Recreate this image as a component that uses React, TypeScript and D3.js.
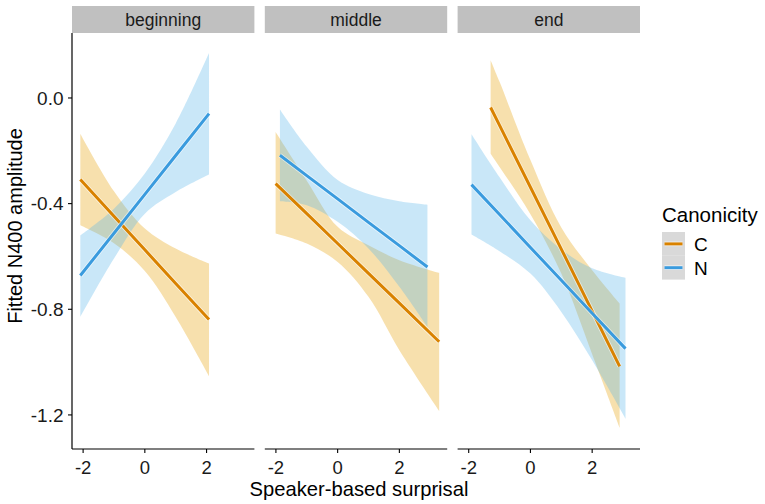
import React from "react";
import * as d3 from "d3";

// facets, groups and axis ticks
const facets = ["beginning", "middle", "end"];
const groups = ["C", "N"];
const yTicks = [0.0, -0.4, -0.8, -1.2];
const xTicks = [-2, 0, 2];

// beginning
const begX_C = [-2.09, -1, 0, 1, 2.08];
const begFit_C = [-0.309, -0.448, -0.575, -0.702, -0.839];
const begUp_C = [-0.135, -0.353, -0.494, -0.57, -0.627];
const begLo_C = [-0.482, -0.55, -0.655, -0.829, -1.053];
const begX_N = [-2.09, -1, 0, 1, 2.08];
const begFit_N = [-0.672, -0.512, -0.365, -0.218, -0.059];
const begUp_N = [-0.52, -0.419, -0.286, -0.097, 0.17];
const begLo_N = [-0.829, -0.608, -0.438, -0.356, -0.29];

// middle
const midX_C = [-2.01, -1, 0, 1, 2, 3.29];
const midFit_C = [-0.324, -0.438, -0.551, -0.664, -0.777, -0.923];
const midUp_C = [-0.129, -0.313, -0.488, -0.558, -0.614, -0.662];
const midLo_C = [-0.513, -0.551, -0.621, -0.753, -0.955, -1.185];
const midX_N = [-1.87, -1, 0, 1, 2, 2.91];
const midFit_N = [-0.217, -0.294, -0.382, -0.471, -0.559, -0.64];
const midUp_N = [-0.044, -0.185, -0.311, -0.364, -0.391, -0.404];
const midLo_N = [-0.391, -0.406, -0.469, -0.57, -0.715, -0.867];

// end
const endX_C = [-1.29, -1, 0, 1, 2, 2.89];
const endFit_C = [-0.036, -0.104, -0.338, -0.572, -0.807, -1.016];
const endUp_C = [0.143, 0.061, -0.235, -0.49, -0.652, -0.778];
const endLo_C = [-0.211, -0.261, -0.44, -0.665, -0.97, -1.248];
const endX_N = [-1.91, -1, 0, 1, 2, 3.08];
const endFit_N = [-0.328, -0.441, -0.566, -0.69, -0.815, -0.949];
const endUp_N = [-0.137, -0.3, -0.463, -0.574, -0.645, -0.681];
const endLo_N = [-0.517, -0.58, -0.665, -0.81, -0.993, -1.214];

const table: any = {
  beginning: {
    C: { x: begX_C, fit: begFit_C, up: begUp_C, lo: begLo_C },
    N: { x: begX_N, fit: begFit_N, up: begUp_N, lo: begLo_N },
  },
  middle: {
    C: { x: midX_C, fit: midFit_C, up: midUp_C, lo: midLo_C },
    N: { x: midX_N, fit: midFit_N, up: midUp_N, lo: midLo_N },
  },
  end: {
    C: { x: endX_C, fit: endFit_C, up: endUp_C, lo: endLo_C },
    N: { x: endX_N, fit: endFit_N, up: endUp_N, lo: endLo_N },
  },
};

const lineCol: any = { C: "#D98200", N: "#3A9BDE" };
const fillCol: any = { C: "#E69F00", N: "#56B4E9" };

const font = "'Liberation Sans', Arial, Helvetica, sans-serif";

// ggplot prints a plain hyphen for negatives
const fmtY = (t: number) => t.toFixed(1).replace("−", "-");

export default function App() {
  const W = 765, H = 504;
  const panelLeft = [72, 264.8, 457.6];
  const pw = 182.4;
  const top = 33, bottom = 449;

  const x = d3.scaleLinear().domain([-2.36, 3.55]).range([0, pw]);
  const y = d3.scaleLinear().domain([-1.329, 0.246]).range([bottom, top]);

  const rows = (s: any) => s.x.map((v: number, i: number) => ({ x: v, fit: s.fit[i], up: s.up[i], lo: s.lo[i] }));

  const area = d3.area<any>()
    .x((d) => x(d.x))
    .y0((d) => y(d.lo))
    .y1((d) => y(d.up))
    .curve(d3.curveCatmullRom.alpha(0.5));
  const line = d3.line<any>()
    .x((d) => x(d.x))
    .y((d) => y(d.fit));

  return (
    <svg width={W} height={H} style={{ position: "absolute", left: 0, top: 0, background: "#fff" }} fontFamily={font}>
      {facets.map((f, i) => (
        <g key={f} transform={`translate(${panelLeft[i]},0)`}>
          <rect x={0} y={6} width={pw} height={27} fill="#C0C0C0" />
          <text x={pw / 2} y={20} fontSize={17.5} textAnchor="middle" dominantBaseline="central" fill="#1a1a1a">{f}</text>
          {groups.map((g) => (
            <path key={"r" + g} d={area(rows(table[f][g])) || ""} fill={fillCol[g]} fillOpacity={0.32} stroke="none" />
          ))}
          {groups.map((g) => (
            <g key={"l" + g}>
              <path d={line(rows(table[f][g])) || ""} fill="none" stroke="#fff" strokeOpacity={0.6} strokeWidth={4.6} />
              <path d={line(rows(table[f][g])) || ""} fill="none" stroke={lineCol[g]} strokeWidth={3} />
            </g>
          ))}
          <line x1={0} x2={pw} y1={bottom} y2={bottom} stroke="#000" strokeWidth={1.2} />
          {xTicks.map((t) => (
            <g key={t} transform={`translate(${x(t)},${bottom})`}>
              <line y1={0} y2={4} stroke="#000" strokeWidth={1.1} />
              <text y={24.5} fontSize={18.5} textAnchor="middle" fill="#1a1a1a">{t}</text>
            </g>
          ))}
          {i === 0 && (
            <g>
              <line x1={0} x2={0} y1={top} y2={bottom} stroke="#000" strokeWidth={1.2} />
              {yTicks.map((t) => (
                <g key={t} transform={`translate(0,${y(t)})`}>
                  <line x1={-4} x2={0} stroke="#000" strokeWidth={1.1} />
                  <text x={-8.5} dy="0.36em" fontSize={19} textAnchor="end" fill="#1a1a1a">{fmtY(t)}</text>
                </g>
              ))}
            </g>
          )}
        </g>
      ))}

      <text x={359} y={496} fontSize={20.2} textAnchor="middle" fill="#000">Speaker-based surprisal</text>
      <text transform="translate(22,226) rotate(-90)" fontSize={20} textAnchor="middle" fill="#000">Fitted N400 amplitude</text>

      <g>
        <text x={662} y={222} fontSize={20.5} fill="#000">Canonicity</text>
        {groups.map((g, k) => (
          <g key={g} transform={`translate(662,${232 + k * 23.8})`}>
            <rect x={0} y={0} width={23} height={23.8} fill="#D9D9D9" />
            <line x1={2.5} x2={20.5} y1={11.9} y2={11.9} stroke="#fff" strokeOpacity={0.7} strokeWidth={4.6} />
            <line x1={2.5} x2={20.5} y1={11.9} y2={11.9} stroke={lineCol[g]} strokeWidth={3} />
            <text x={32} y={12} dy="0.36em" fontSize={19} fill="#000">{g}</text>
          </g>
        ))}
      </g>
    </svg>
  );
}
